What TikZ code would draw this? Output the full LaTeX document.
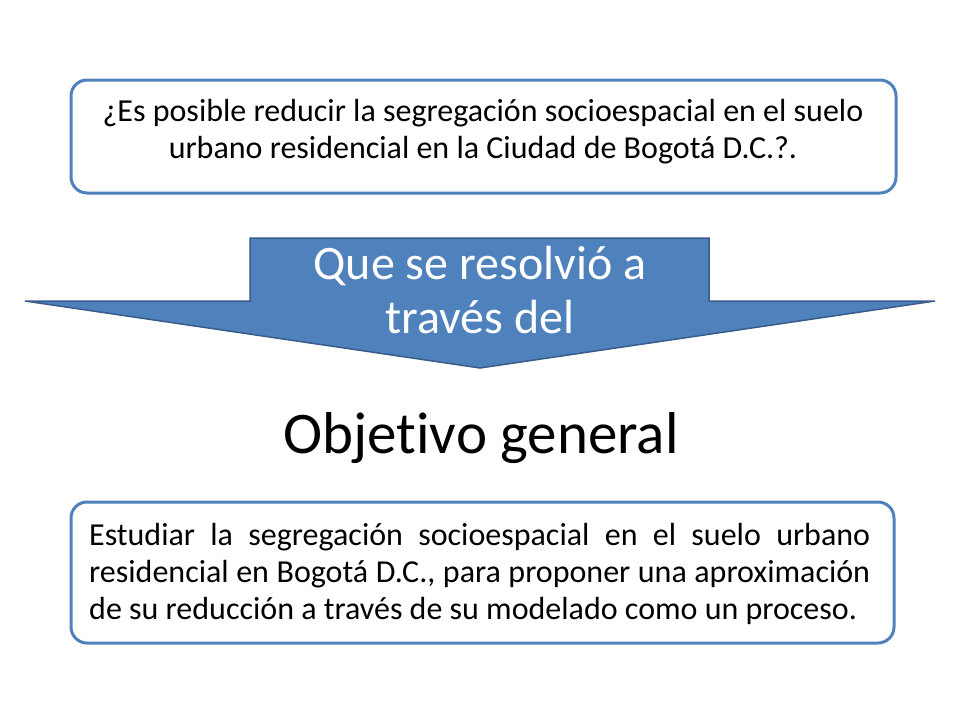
\documentclass[tikz,border=0pt]{standalone}
\usepackage{fontspec}
\setmainfont{Carlito}[Ligatures=NoCommon]
\definecolor{boxblue}{HTML}{4F81BD}
\definecolor{arrowfill}{HTML}{4F81BD}
\definecolor{arrowline}{HTML}{385D8A}
\begin{document}
\begin{tikzpicture}[x=1pt,y=-1pt,
  roundbox/.style={draw=boxblue, line width=3pt, rounded corners=16pt, fill=white, inner sep=0pt},
  txt/.style={inner sep=0pt, font=\fontsize{32}{37}\selectfont}]
\useasboundingbox (0,0) rectangle (960,720);
\fill[white] (0,0) rectangle (960,720);
% top box
\node[roundbox, minimum width=825pt, minimum height=113pt] (q) at (483.5,136.5) {};
\node[txt, align=center, anchor=base] (qt) at (483,158) {¿Es posible reducir la segregación socioespacial en el suelo\\urbano residencial en la Ciudad de Bogotá D.C.?.};
% arrow
\draw[fill=arrowfill, draw=arrowline, line width=1.5pt, line join=miter]
  (250,238) -- (709,238) -- (709,301) -- (935,301) -- (480,368) -- (25,301) -- (250,301) -- cycle;
\node[inner sep=0pt, text=white, align=center, anchor=base, font=\fontsize{48}{54}\selectfont] (at) at (480,333) {Que se resolvió a\\través del};
% objetivo
\node[inner sep=0pt, anchor=base, font=\fontsize{59}{66}\selectfont] (og) at (481,453) {Objetivo general};
% bottom box
\node[roundbox, minimum width=823pt, minimum height=141pt] (o) at (482.5,572.5) {};
\node[txt, text width=781pt, align=justify, anchor=base west] (ot) at (89,545) {\fontsize{32}{38}\selectfont Estudiar la segregación socioespacial en el suelo urbano\linebreak residencial en Bogotá D.C., para proponer una aproximación\linebreak de su reducción a través de su modelado como un proceso.};
\end{tikzpicture}
\end{document}
